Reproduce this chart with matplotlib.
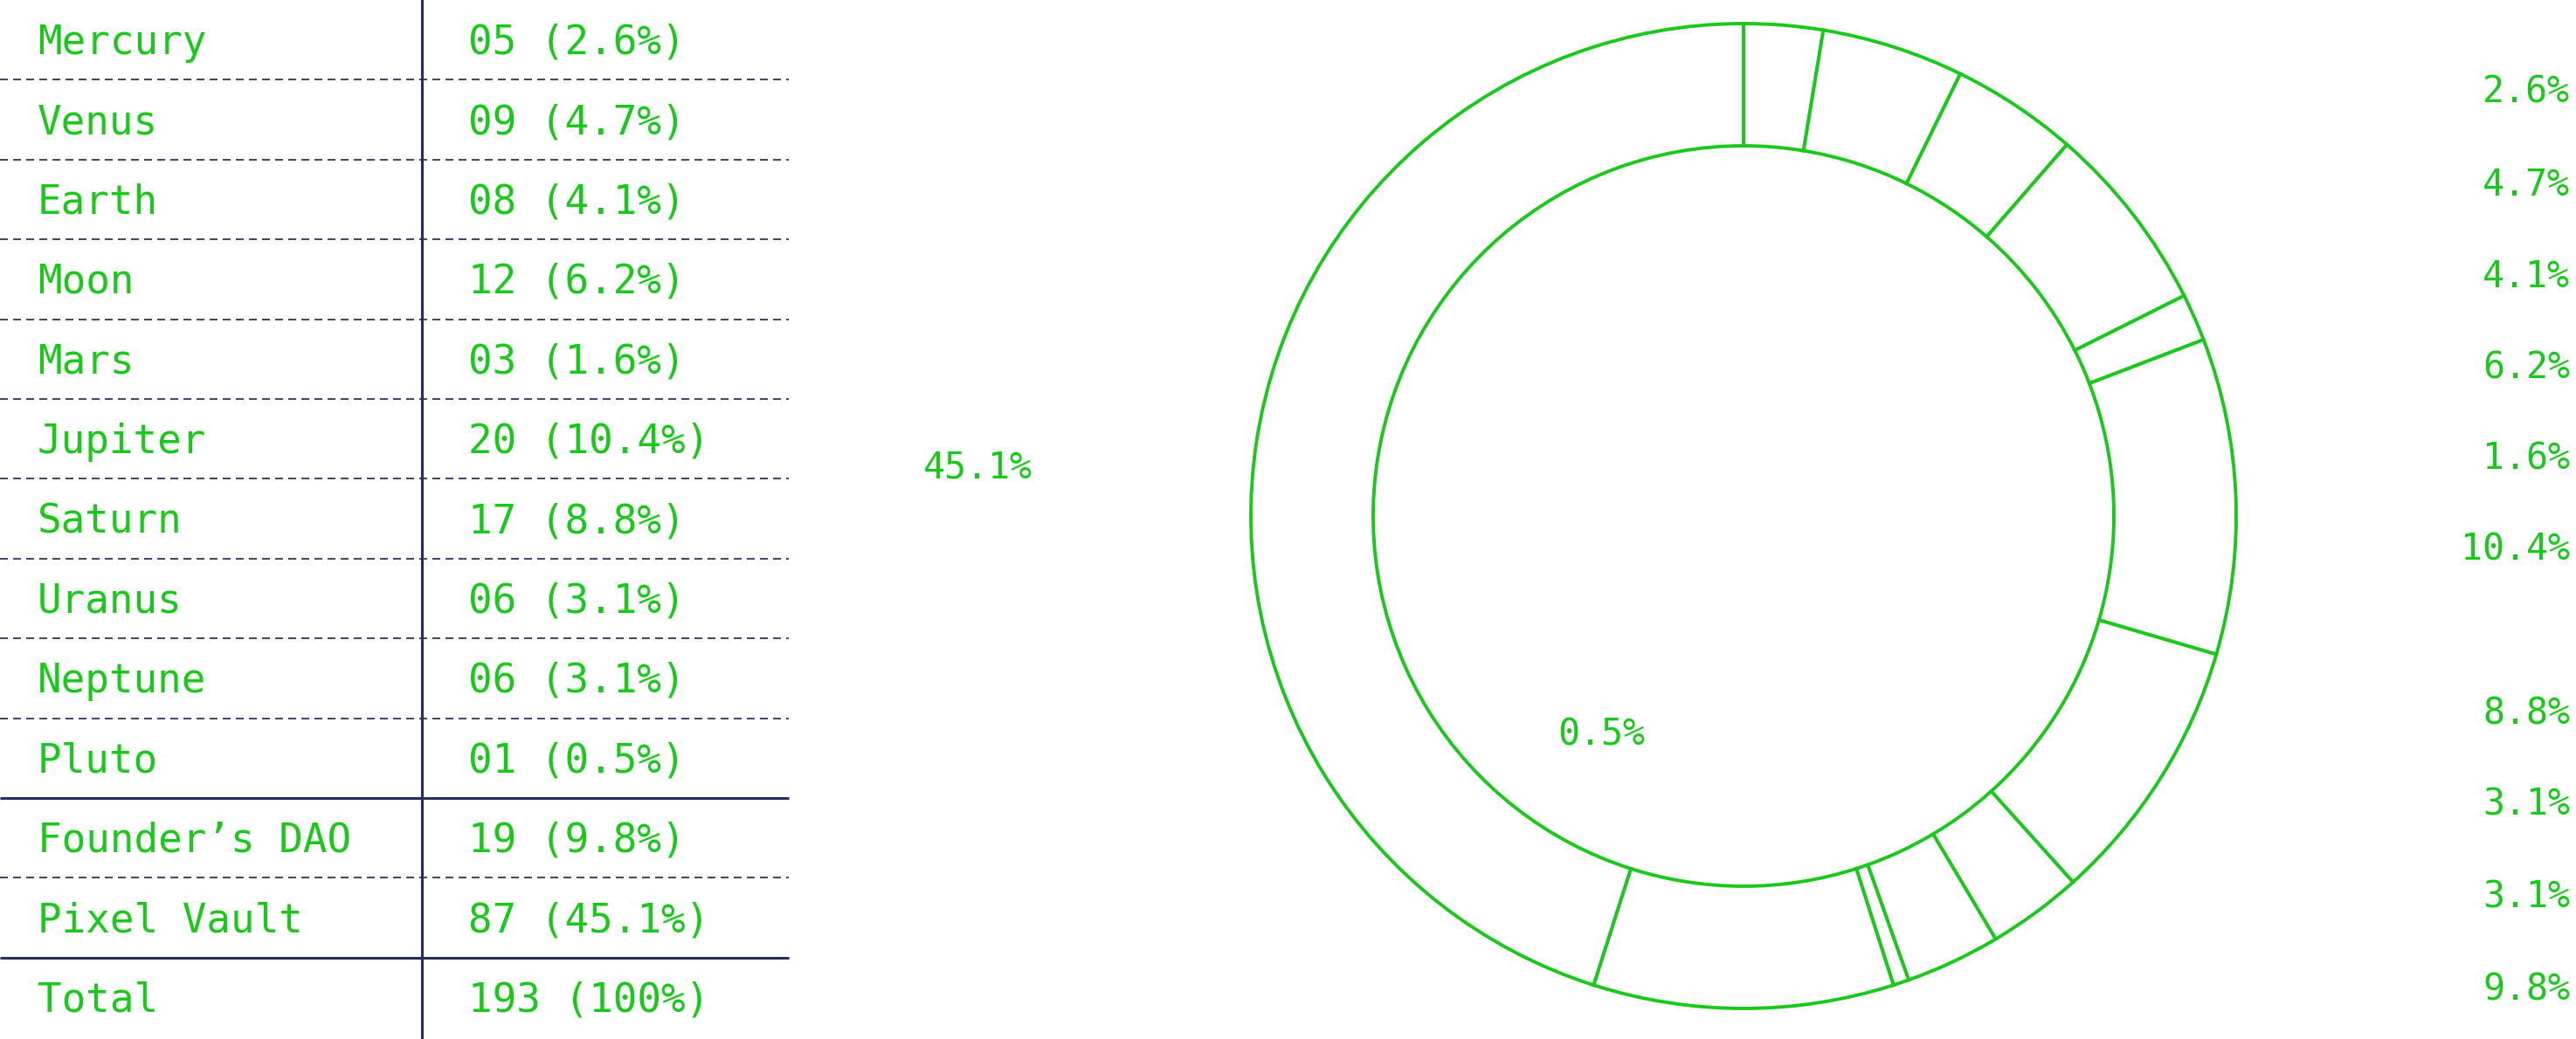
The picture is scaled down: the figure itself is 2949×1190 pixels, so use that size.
import matplotlib
matplotlib.use("Agg")
import matplotlib.pyplot as plt

# data
names = ["Mercury", "Venus", "Earth", "Moon", "Mars", "Jupiter", "Saturn",
         "Uranus", "Neptune", "Pluto", "Founder’s DAO", "Pixel Vault"]
counts = [5, 9, 8, 12, 3, 20, 17, 6, 6, 1, 19, 87]
# rows after which a solid rule is drawn (group ends)
group_ends = ["Pluto", "Pixel Vault"]
# slices whose label sits in the right-hand column
right_labels = ["Mercury", "Venus", "Earth", "Moon", "Mars", "Jupiter",
                "Saturn", "Uranus", "Neptune", "Founder’s DAO"]

GREEN = "#19c919"
NAVY = "#262f57"
W, H = 2949, 1190
plt.rcParams["lines.scale_dashes"] = False

total = sum(counts)
pcts = [c / total * 100 for c in counts]

fig = plt.figure(figsize=(W / 100, H / 100), dpi=100, facecolor="white")

# donut
cx, cy, r_out, r_in = 1996, 591, 564, 424
pax = fig.add_axes([(cx - r_out) / W, (H - cy - r_out) / H, 2 * r_out / W, 2 * r_out / H])
pax.pie(counts, startangle=90, counterclock=False, radius=1,
        wedgeprops=dict(width=1 - r_in / r_out, facecolor="white",
                        edgecolor=GREEN, linewidth=2.8))
pax.set_xlim(-1, 1)
pax.set_ylim(-1, 1)
pax.axis("off")

# table + labels, drawn in pixel coordinates
ax = fig.add_axes([0, 0, 1, 1])
ax.set_zorder(2)
ax.patch.set_alpha(0)
ax.set_xlim(0, W)
ax.set_ylim(H, 0)
ax.axis("off")

row_h = 91.4
table_w = 903
col_x = 483
font = dict(family="DejaVu Sans Mono", fontsize=33, color=GREEN)

rows = [(n, f"{c:02d} ({p:.1f}%)") for n, c, p in zip(names, counts, pcts)]
rows.append(("Total", f"{total} ({100 * total / total:.0f}%)"))

for i, (name, val) in enumerate(rows):
    yb = (i + 0.5) * row_h + 16
    ax.text(43, yb, name, va="baseline", ha="left", **font)
    ax.text(536, yb, val, va="baseline", ha="left", **font)
    if i < len(rows) - 1:
        ys = (i + 1) * row_h
        if name in group_ends:
            ax.plot([0, table_w], [ys, ys], color=NAVY, lw=2.2, solid_capstyle="butt")
        else:
            ax.plot([0, table_w], [ys, ys], color=NAVY, lw=1.4,
                    linestyle=(0, (6.5, 4.3)), alpha=0.9)

ax.plot([col_x, col_x], [0, H], color=NAVY, lw=2.2)

# slice labels
label_font = dict(family="DejaVu Sans Mono", fontsize=30, color=GREEN)
right_y = [106, 212, 317, 421, 526, 630, 818, 922, 1028, 1133]
for name, y in zip(right_labels, right_y):
    p = pcts[names.index(name)]
    ax.text(2942, y, f"{p:.1f}%", ha="right", va="center", **label_font)

ax.text(1119, 535, f"{pcts[names.index('Pixel Vault')]:.1f}%", ha="center", va="center", **label_font)
ax.text(1833, 842, f"{pcts[names.index('Pluto')]:.1f}%", ha="center", va="center", **label_font)

fig.savefig("out.png", dpi=100, facecolor="white")
